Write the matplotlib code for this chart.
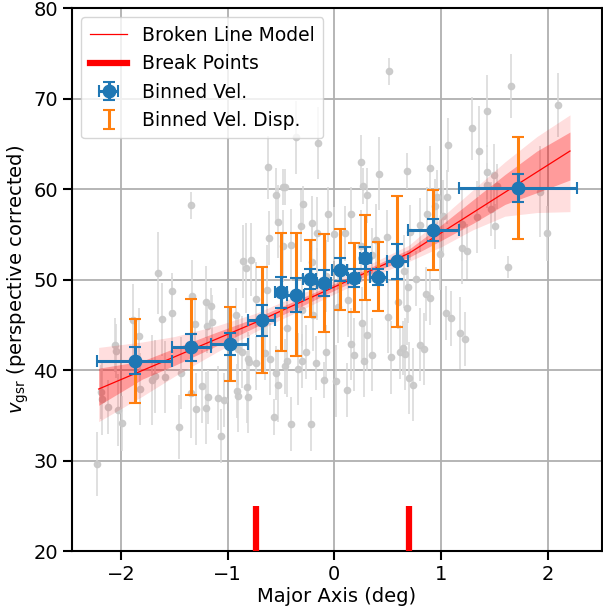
import numpy as np
import matplotlib
matplotlib.use("Agg")
import matplotlib.pyplot as plt
from matplotlib.lines import Line2D

# ---------------- data ----------------
# individual stars (x, v, err)
star_x = [0.51, -0.62, -0.36, -0.15, 0.25, 0.42, 0.68, -0.48, -0.46, -0.55, 0.27, 0.31,
          1.66, 2.10, 1.43, 1.29, 1.07, 1.36, 0.90, 1.43, 1.50, 1.43, 1.53, 1.93, 1.06, 0.96,
          0.87, 0.94, 1.02, 1.20, 1.34, 1.47, 1.51, 1.99, 0.99, 1.20, 1.63, 0.86, 1.05, 1.18,
          -1.34, -1.65, -1.52, -1.52, -1.62, -1.33, -1.20, -1.16, -1.15, -1.19, -0.86, -0.83,
          -0.78, -1.89, -1.83, -0.92, -1.31,
          -2.06, -2.05, -2.19, -2.18, -2.12, -2.03, -1.99, -1.82, -1.71, -1.68, -1.59, -1.44,
          -1.46, -1.34, -1.30, -1.24, -1.20, -1.18, -1.09, -1.06, -1.03, -0.91, -0.90, -0.90,
          -0.87, -0.82, -0.81, -0.81, -0.80, -2.23,
          -0.65, -0.60, -0.73, -0.55, -0.53, -0.46, -0.44, -0.34, -0.30, -0.27, -0.17, -0.08,
          -0.10, 0.02, 0.12, 0.16, 0.18, 0.28, 0.35, 0.53, 0.62, 0.64, 0.70, 0.80, -0.57,
          -0.41, -0.22,
          -0.29, -0.06, 0.16, -0.21, -0.31, -0.16, 0.00, 0.10, 0.39, 0.49, 0.80, 0.71, -0.41,
          0.25, 0.35, 0.65, 0.69, 0.77, -0.63, -0.73, -0.44, -0.30, -0.20, 0.03, 0.13, 0.26,
          0.31, 0.50, 0.60, 0.68, -0.08, -0.16, -0.61, -0.53, -0.48, -0.21,
          0.90, 1.09, 1.23, 1.24, 0.84, 0.74, 0.66]
star_v = [73.0, 62.4, 65.7, 65.1, 63.0, 61.7, 62.0, 60.2, 60.2, 59.3, 60.3, 59.3,
          71.4, 69.3, 68.6, 66.7, 64.9, 64.2, 62.3, 61.9, 61.5, 60.4, 60.3, 59.7, 59.1, 59.1,
          57.2, 58.1, 57.0, 56.1, 56.9, 57.8, 55.9, 55.1, 52.8, 53.5, 51.4, 48.4, 46.3, 44.1,
          58.2, 50.7, 48.7, 46.3, 45.6, 48.2, 47.5, 47.1, 45.3, 44.9, 52.0, 51.3,
          52.2, 45.5, 43.8, 46.1, 45.1,
          42.8, 42.1, 37.6, 36.8, 35.9, 35.6, 34.1, 37.9, 38.9, 39.3, 39.2, 39.7,
          33.7, 37.5, 35.7, 38.2, 35.8, 37.0, 36.9, 32.7, 36.7, 37.7, 37.1, 42.3,
          42.0, 38.1, 37.0, 41.2, 40.9, 29.6,
          41.9, 41.2, 40.8, 39.7, 38.3, 40.4, 41.0, 40.1, 41.0, 42.0, 40.8, 42.0,
          38.9, 38.8, 37.8, 42.9, 41.7, 41.0, 41.7, 41.4, 42.0, 42.4, 39.1, 42.8, 34.8,
          34.0, 34.0,
          58.3, 57.2, 57.2, 56.2, 55.9, 55.1, 55.0, 55.1, 54.4, 54.7, 56.0, 55.2, 53.8,
          53.7, 52.7, 50.9, 49.2, 50.1, 48.8, 47.9, 44.6, 46.6, 46.1, 47.0, 47.7, 45.2,
          43.9, 45.9, 47.5, 46.8, 50.4, 49.5, 54.6, 56.4, 53.7, 51.9,
          48.0, 45.7, 43.4, 53.1, 42.3, 38.4, 41.8]
star_err = [1.5, 3.5, 4.0, 4.0, 3.0, 4.0, 2.0, 2.0, 2.0, 3.0, 2.0, 3.0,
            3.5, 3.5, 4.0, 3.5, 3.0, 5.0, 2.5, 3.0, 3.5, 2.5, 2.5, 5.0, 3.0, 3.0,
            3.0, 3.0, 4.0, 4.0, 4.0, 3.0, 2.5, 3.0, 4.0, 4.0, 1.2, 3.0, 3.0, 4.0,
            1.5, 4.5, 2.0, 4.0, 4.0, 4.0, 4.0, 2.0, 3.0, 3.0, 4.0, 5.0,
            4.0, 4.0, 3.0, 3.0, 3.0,
            3.0, 3.0, 3.0, 4.0, 3.0, 4.0, 3.0, 4.0, 5.0, 4.0, 4.0, 4.0,
            3.5, 5.0, 4.0, 4.0, 4.0, 3.0, 3.5, 3.0, 3.0, 3.0, 4.0, 4.0,
            4.0, 4.0, 4.0, 3.0, 3.0, 3.5,
            3.0, 4.0, 3.0, 3.0, 4.0, 3.0, 4.0, 4.0, 3.0, 3.0, 3.0, 3.0,
            2.0, 4.0, 3.0, 4.0, 4.0, 4.0, 4.0, 4.0, 3.0, 3.0, 4.0, 4.0, 2.0,
            3.0, 3.0,
            2.0, 3.0, 3.0, 3.0, 4.0, 4.0, 3.0, 3.0, 4.0, 3.0, 3.0, 3.0, 4.0,
            4.0, 3.0, 4.0, 4.0, 3.0, 5.0, 4.0, 4.0, 4.0, 4.0, 4.0, 4.0, 4.0,
            4.0, 4.0, 3.0, 4.0, 4.0, 4.0, 3.0, 4.0, 4.0, 4.0,
            3.0, 3.0, 3.0, 3.0, 4.0, 4.0, 4.0]

# binned velocities
bin_x = [-1.873, -1.34, -0.98, -0.68, -0.50, -0.36, -0.23, -0.10, 0.05, 0.18, 0.29, 0.41, 0.59, 0.93, 1.72]
bin_xerr = [0.355, 0.18, 0.175, 0.125, 0.056, 0.08, 0.06, 0.065, 0.07, 0.055, 0.05, 0.08, 0.10, 0.235, 0.555]
bin_v = [41.04, 42.5, 42.9, 45.5, 48.6, 48.3, 50.1, 49.6, 51.1, 50.2, 52.4, 50.3, 52.0, 55.5, 60.1]
bin_verr = [1.5, 1.5, 1.2, 1.7, 1.7, 1.9, 1.1, 1.4, 1.3, 1.0, 1.2, 0.9, 1.9, 1.2, 1.55]
bin_disp = [4.65, 5.3, 4.1, 5.85, 6.5, 6.8, 4.25, 5.4, 4.5, 3.8, 4.7, 3.8, 7.2, 4.4, 5.6]

# broken line model
model_x = [-2.21, -0.73, 0.70, 2.21]
model_v = [37.9, 45.3, 52.9, 64.2]
break_x = [-0.73, 0.70]

# credible bands
band_x = [-2.21, -1.8, -1.5, -1.1, -0.73, -0.3, 0.0, 0.35, 0.70, 1.0, 1.3, 1.6, 1.9, 2.21]
outer_hi = [42.5, 43.1, 43.7, 44.9, 46.3, 48.5, 49.9, 51.8, 53.8, 56.8, 59.9, 63.0, 65.8, 68.2]
outer_lo = [34.3, 37.1, 39.3, 42.0, 44.3, 46.7, 48.4, 50.3, 52.0, 53.6, 55.5, 57.0, 57.4, 57.5]
inner_hi = [40.2, 41.0, 42.4, 44.2, 45.8, 48.0, 49.55, 51.4, 53.35, 56.0, 58.8, 61.6, 64.2, 66.3]
inner_lo = [36.1, 39.0, 40.5, 42.7, 44.8, 47.1, 48.8, 50.7, 52.45, 54.3, 56.2, 58.3, 59.6, 61.0]

# ---------------- plot ----------------
plt.rcParams['font.family'] = ['DejaVu Sans']
fig = plt.figure(figsize=(6.03, 6.09), dpi=100)
ax = fig.add_axes([0.1194, 0.0952, 0.8789, 0.8916])

ax.grid(True, color='#b0b0b0', lw=1.3, zorder=0)
ax.set_axisbelow(True)

ax.errorbar(star_x, star_v, yerr=star_err, fmt='o', ms=4.5, color='#c8c8c8',
            ecolor='#d9d9d9', elinewidth=1.3, capsize=0, alpha=0.9, zorder=2)

ax.fill_between(band_x, outer_lo, outer_hi, color='red', alpha=0.13, lw=0, zorder=3)
ax.fill_between(band_x, inner_lo, inner_hi, color='red', alpha=0.30, lw=0, zorder=3)
line_h, = ax.plot(model_x, model_v, color='red', lw=0.9, zorder=4, label='Broken Line Model')

ax.vlines(break_x, 20, 25, color='red', lw=4.5, zorder=4, label='Break Points')

disp_h = ax.errorbar(bin_x, bin_v, yerr=bin_disp, fmt='none', ecolor='#ff7f0e',
                     elinewidth=2.2, capsize=4, capthick=1.5, zorder=5, label='Binned Vel. Disp.')
bv_h = ax.errorbar(bin_x, bin_v, xerr=bin_xerr, yerr=bin_verr, fmt='o', ms=9,
                   color='#1f77b4', elinewidth=2.2, capsize=4, capthick=1.5, zorder=6,
                   label='Binned Vel.')

bp_leg = Line2D([], [], color='red', lw=4.5)
ax.legend([line_h, bp_leg, bv_h, disp_h],
          ['Broken Line Model', 'Break Points', 'Binned Vel.', 'Binned Vel. Disp.'],
          loc='upper left', fontsize=13.5, framealpha=0.8, handlelength=2.0,
          borderpad=0.45, labelspacing=0.5)

ax.set_xlim(-2.46, 2.51)
ax.set_ylim(20, 80)
ax.set_xticks([-2, -1, 0, 1, 2])
ax.set_yticks([20, 30, 40, 50, 60, 70, 80])
ax.set_xticklabels(['\u22122', '\u22121', '0', '1', '2'])
ax.tick_params(direction='out', length=6.5, width=1.5, labelsize=14)
for s in ax.spines.values():
    s.set_linewidth(1.5)
ax.set_xlabel('Major Axis (deg)', fontsize=14, labelpad=2)
ax.set_ylabel(r'$v_{\rm gsr}$ (perspective corrected)', fontsize=14, labelpad=2)

fig.savefig('out.png', dpi=100)
